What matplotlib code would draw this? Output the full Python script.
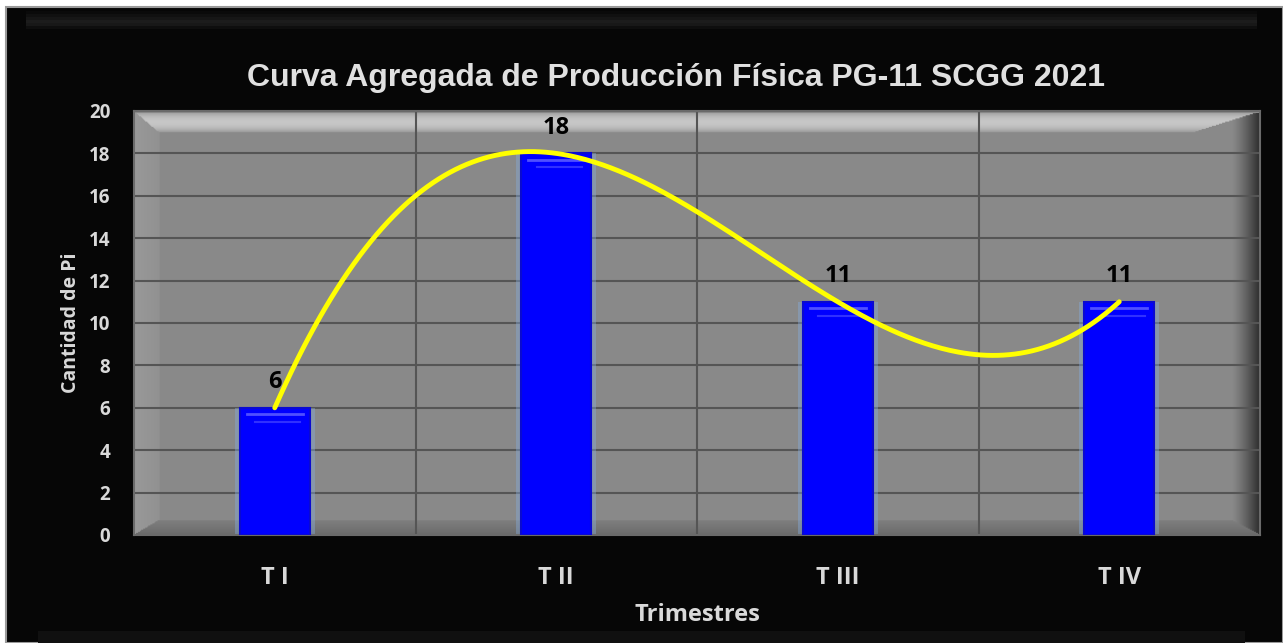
import matplotlib.pyplot as plt
import numpy as np
from matplotlib.patches import Rectangle

trimestres = ['T I', 'T II', 'T III', 'T IV']
cantidad = [6, 18, 11, 11]
y_ticks = [0, 2, 4, 6, 8, 10, 12, 14, 16, 18, 20]

fig = plt.figure(figsize=(12.83, 6.43), dpi=100)
fig.patch.set_facecolor('white')

# black outer frame
fig.patches.append(Rectangle((6 / 1283, 0), 1 - 6 / 1283, 1 - 7 / 643, transform=fig.transFigure,
                             facecolor='#060606', edgecolor='#9a9a9a', lw=1.5, zorder=-3))
# soft bevel on the frame top and bottom
for i, c in enumerate(['#0a0a0a', '#101010', '#161616', '#1c1c1c', '#181818', '#0e0e0e']):
    fig.patches.append(Rectangle((0.02, 1 - (14 + 3 * i) / 643), 0.96, 3 / 643,
                                 transform=fig.transFigure, facecolor=c, edgecolor='none', zorder=-2))
fig.patches.append(Rectangle((0.03, 0), 0.94, 12 / 643, transform=fig.transFigure,
                             facecolor='#101010', edgecolor='none', zorder=-2))

ax = fig.add_axes([134 / 1283, 1 - 535 / 643, (1260 - 134) / 1283, (535 - 111) / 643])
ax.set_facecolor('#8a8a8a')

# bevelled panel background
ny, nx = 400, 1100
yy, xx = np.mgrid[0:ny, 0:nx]
u = xx / (nx - 1)
v = 1 - yy / (ny - 1)
img = np.full((ny, nx), 0.54)
left = u < 0.022
img[left] = 0.57 + 0.03 * (1 - u[left] / 0.022)
right = u > 0.975
img[right] = 0.54 - 0.36 * ((u[right] - 0.975) / 0.025) ** 1.3
bottom = (v < 0.035) & (u > 0.022 * v / 0.035) & (u < 1 - 0.025 * v / 0.035)
img[bottom] = 0.50 - 0.08 * (1 - v[bottom] / 0.035)
top = (v > 0.95) & (u > 0.022 * (1 - v) / 0.05) & (u < 1 - 0.06 * (1 - v) / 0.05)
img[top] = 0.56 + 0.22 * np.sin((v[top] - 0.95) / 0.05 * np.pi) ** 0.7
ax.imshow(np.dstack([img, img, img]), extent=[0, 1, 0, 1], transform=ax.transAxes,
          aspect='auto', zorder=0, interpolation='bilinear')

x = np.arange(len(trimestres))

# grid
for t in y_ticks[1:-1]:
    ax.axhline(t, color='#555555', lw=1.5, zorder=1)
for b in [0.5, 1.5, 2.5]:
    ax.axvline(b, color='#555555', lw=1.5, zorder=1)

# bars with a light glow
ax.bar(x, cantidad, width=0.285, color='#86aee0', alpha=0.4, zorder=2, linewidth=0)
ax.bar(x, cantidad, width=0.25, color='#0000ff', edgecolor='#0a0ad0', linewidth=1.5, zorder=3)
for xi, val in zip(x, cantidad):
    ax.plot([xi - 0.1, xi + 0.1], [val - 0.3, val - 0.3], color='#5050ff', lw=2, zorder=4)
    ax.plot([xi - 0.07, xi + 0.09], [val - 0.65, val - 0.65], color='#3030ff', lw=1.5, zorder=4)

# smoothed curve through the bar tops
coef = np.polyfit(x, cantidad, 3)
xs = np.linspace(0, 3, 300)
ax.plot(xs, np.polyval(coef, xs), color='#ffff00', lw=3.5, solid_capstyle='round', zorder=5)

for xi, val in zip(x, cantidad):
    ax.text(xi, val + 0.65, str(val), ha='center', va='bottom', fontsize=17,
            fontweight='bold', color='black', family='Open Sans', zorder=6)

ax.set_xlim(-0.5, 3.5)
ax.set_ylim(0, 20)
ax.set_yticks(y_ticks)
ax.set_yticklabels([str(t) for t in y_ticks], fontsize=13.5, fontweight='bold',
                   color='#d9d9d9', family='Open Sans')
ax.set_xticks(x)
ax.set_xticklabels(trimestres, fontsize=17, fontweight='bold', color='#d9d9d9', family='Open Sans')
ax.tick_params(axis='both', length=0)
ax.tick_params(axis='y', pad=17)
ax.tick_params(axis='x', pad=22)
for s in ax.spines.values():
    s.set_color('#6a6a6a')
    s.set_linewidth(1.5)

ax.set_xlabel('Trimestres', fontsize=17, fontweight='bold', color='#d9d9d9',
              family='Open Sans', labelpad=10)
ax.set_ylabel('Cantidad de Pi', fontsize=14, fontweight='bold', color='#d9d9d9',
              family='Open Sans', labelpad=6)

fig.text(676 / 1283, 1 - 78 / 643, 'Curva Agregada de Producción Física PG-11 SCGG 2021',
         ha='center', va='center', fontsize=23, fontweight='bold', color='#e0e0e0',
         family='Liberation Sans')

plt.savefig('out.png', dpi=100, facecolor=fig.get_facecolor())
